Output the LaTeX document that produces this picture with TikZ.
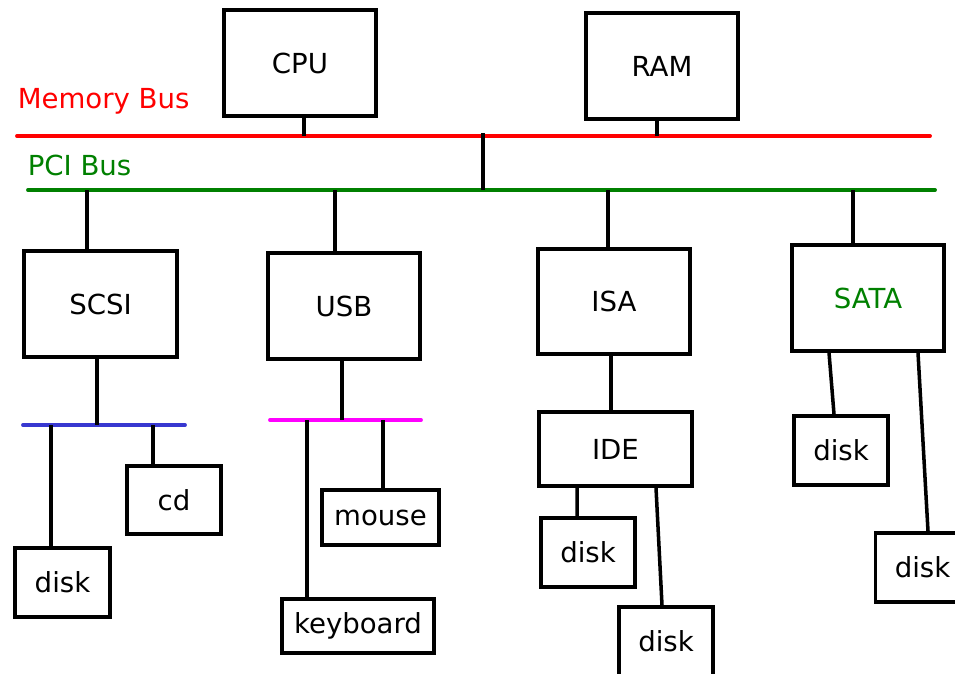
\documentclass[tikz,border=0pt]{standalone}
\usepackage{fontspec}
\setmainfont{DejaVu Sans}
\definecolor{pcigreen}{RGB}{0,128,0}
\definecolor{scsiblue}{RGB}{56,56,208}
\definecolor{usbpink}{RGB}{255,0,255}
\definecolor{membusred}{RGB}{255,0,0}
\tikzset{
	box/.style={draw,rectangle,inner sep=0pt,minimum width=3.04cm,minimum height=2.12cm},
	smallbox/.style={draw,rectangle,inner sep=0pt,minimum width=1.88cm,minimum height=1.38cm},
	bus/.style={line width=2.2pt,line cap=round}
}
\begin{document}
\begin{tikzpicture}[x=0.02cm,y=-0.02cm,line width=2pt,font=\fontsize{15.7}{19}\selectfont]
		\useasboundingbox (0,0) rectangle (955,673);
		\clip (0,0) rectangle (955,673);
		
		\coordinate (memL) at (17,136);
		\coordinate (memR) at (930,136);
		\coordinate (pciL) at (28,190);
		\coordinate (pciR) at (935,190);
		\coordinate (link) at (483,133);
		\coordinate (scsiL) at (23,425);
		\coordinate (scsiR) at (185,425);
		\coordinate (usbL) at (270,420);
		\coordinate (usbR) at (421,420);
		
		\draw[bus,membusred] (memL) -- (memR);
		\draw[bus,pcigreen] (pciL) -- (pciR);
		\draw[bus,scsiblue] (scsiL) -- (scsiR);
		\draw[bus,usbpink] (usbL) -- (usbR);
		
		\node[anchor=base west,inner sep=0pt,text=membusred] (memlabel) at (16,108) {Memory Bus};
		\node[anchor=base west,inner sep=0pt,text=pcigreen] (pcilabel) at (26,175) {PCI Bus};
		
		\node[box] (cpu) at (300,63) {CPU};
		\node[box] (ram) at (662,66) {RAM};
		\node[box,minimum width=3.06cm] (scsi) at (100.5,304) {SCSI};
		\node[box] (usb) at (344,306) {USB};
		\node[box,minimum height=2.1cm] (isa) at (614,301.5) {ISA};
		\node[box] (sata) at (868,298) {\textcolor{pcigreen}{SATA}};
		
		\node[smallbox,minimum width=1.9cm] (scsidisk) at (62.5,582.5) {disk};
		\node[smallbox,minimum height=1.36cm] (cd) at (174,500) {cd};
		\node[smallbox,minimum width=2.34cm,minimum height=1.1cm] (mouse) at (380.5,517.5) {mouse};
		\node[smallbox,minimum width=3.04cm,minimum height=1.08cm] (keyboard) at (358,626) {keyboard};
		\node[box,minimum width=3.06cm,minimum height=1.48cm] (ide) at (615.5,449) {IDE};
		\node[smallbox] (idedisk) at (588,552.5) {disk};
		\node[smallbox] (idedisktwo) at (666,641.5) {disk};
		\node[smallbox] (satadisk) at (841,450.5) {disk};
		\node[smallbox] (satadisktwo) at (922.5,567.5) {disk};
		
		\draw ([xshift=0.08cm]cpu.south) -- ([xshift=0.08cm]cpu.south |- memL);
		\draw ([xshift=-0.1cm]ram.south) -- ([xshift=-0.1cm]ram.south |- memL);
		\draw (link) -- (link |- pciL);
		
		\draw ([xshift=-0.27cm]scsi.north) -- ([xshift=-0.27cm]scsi.north |- pciL);
		\draw ([xshift=-0.18cm]usb.north) -- ([xshift=-0.18cm]usb.north |- pciL);
		\draw ([xshift=-0.12cm]isa.north) -- ([xshift=-0.12cm]isa.north |- pciL);
		\draw ([xshift=-0.3cm]sata.north) -- ([xshift=-0.3cm]sata.north |- pciL);
		
		\draw ([xshift=-0.07cm]scsi.south) -- ([xshift=-0.07cm]scsi.south |- scsiL);
		\draw ([xshift=-0.23cm]scsidisk.north) -- ([xshift=-0.23cm]scsidisk.north |- scsiL);
		\draw ([xshift=-0.42cm]cd.north) -- ([xshift=-0.42cm]cd.north |- scsiL);
		
		\draw ([xshift=-0.04cm]usb.south) -- ([xshift=-0.04cm]usb.south |- usbL);
		\draw ([xshift=-1.02cm]keyboard.north) -- ([xshift=-1.02cm]keyboard.north |- usbL);
		\draw ([xshift=0.05cm]mouse.north) -- ([xshift=0.05cm]mouse.north |- usbL);
		
		\draw ([xshift=-0.06cm]isa.south) -- ([xshift=-0.06cm]isa.south |- ide.north);
		\draw ([xshift=-0.77cm]ide.south) -- ([xshift=-0.22cm]idedisk.north);
		\draw ([xshift=0.81cm]ide.south) -- ([xshift=-0.08cm]idedisktwo.north);
		
		\draw ([xshift=-0.78cm]sata.south) -- ([xshift=-0.14cm]satadisk.north);
		\draw ([xshift=1cm]sata.south) -- ([xshift=0.11cm]satadisktwo.north);
	\end{tikzpicture}
\end{document}
